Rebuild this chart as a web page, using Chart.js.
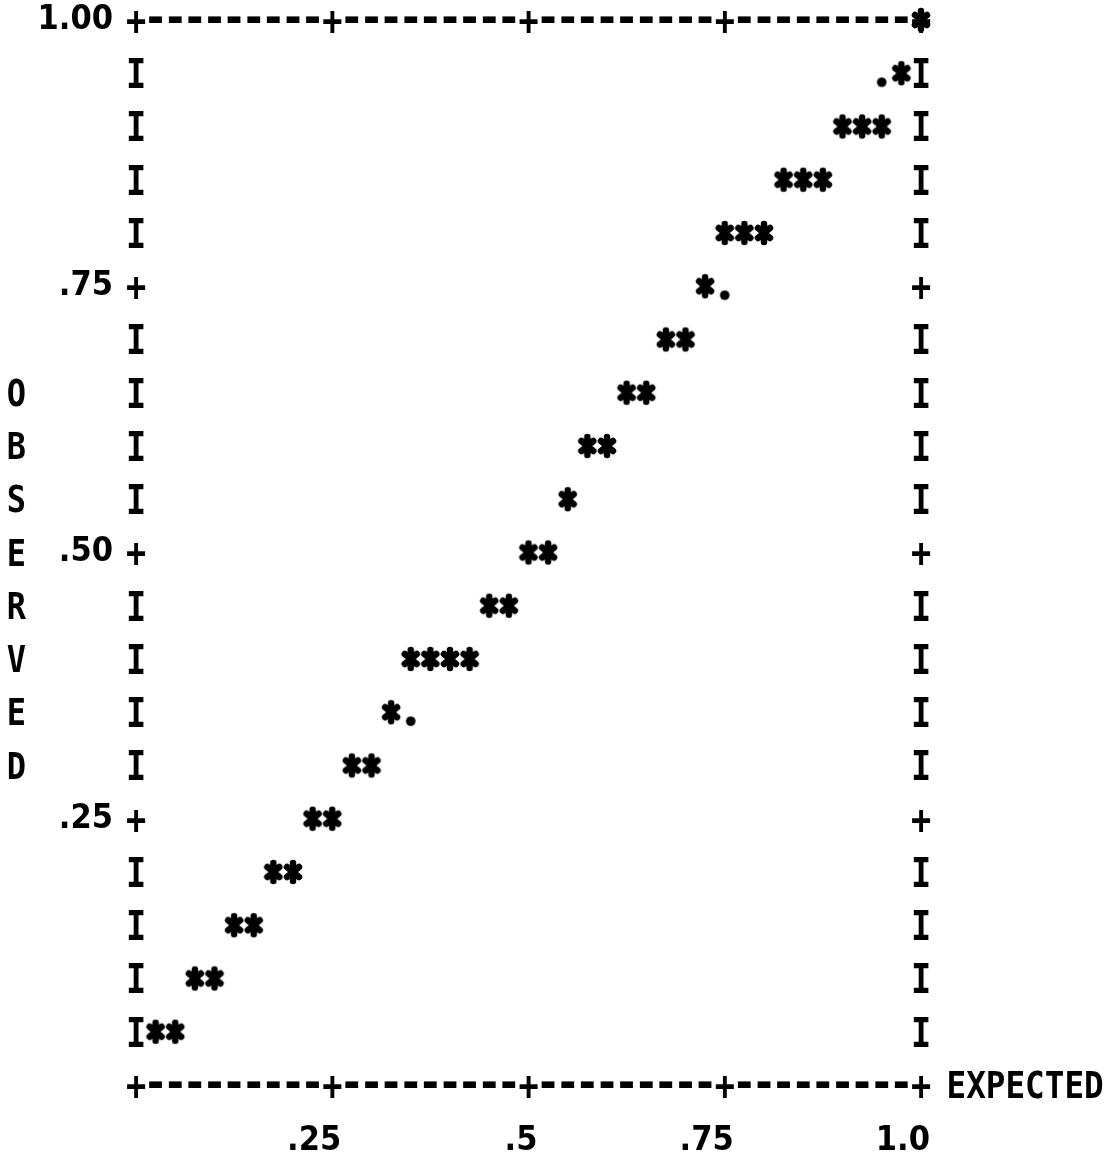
<!DOCTYPE html>
<html>
<head>
<meta charset="utf-8">
<script src="https://cdn.jsdelivr.net/npm/chart.js@4.4.1/dist/chart.umd.min.js"></script>
<style>
  html, body { margin: 0; padding: 0; background: #fff; }
  #wrap { width: 1113px; height: 1163px; }
</style>
</head>
<body>
<div id="wrap"><canvas id="c" width="1113" height="1163"></canvas></div>
<script>
// ---- data ----
const expectedStar = [0.025, 0.05, 0.075, 0.10, 0.125, 0.15, 0.175, 0.20, 0.225, 0.25,
  0.275, 0.30, 0.325, 0.35, 0.375, 0.40, 0.425, 0.45, 0.475, 0.50, 0.525, 0.55,
  0.575, 0.60, 0.625, 0.65, 0.675, 0.70, 0.725, 0.75, 0.775, 0.80, 0.825, 0.85, 0.875,
  0.90, 0.925, 0.95, 0.975, 1.0];
const observedStar = [0.05, 0.05, 0.10, 0.10, 0.15, 0.15, 0.20, 0.20, 0.25, 0.25,
  0.30, 0.30, 0.35, 0.40, 0.40, 0.40, 0.40, 0.45, 0.45, 0.50, 0.50, 0.55,
  0.60, 0.60, 0.65, 0.65, 0.70, 0.70, 0.75, 0.80, 0.80, 0.80, 0.85, 0.85, 0.85,
  0.90, 0.90, 0.90, 0.95, 1.0];
const expectedDot = [0.35, 0.75, 0.95];
const observedDot = [0.35, 0.75, 0.95];

const xTickValues = [0.25, 0.5, 0.75, 1.0];
const xTickLabels = ['.25', '.5', '.75', '1.0'];
const yTickValues = [0.25, 0.5, 0.75, 1.0];
const yTickLabels = ['.25', '.50', '.75', '1.00'];
const xTitle = 'EXPECTED';
const yTitle = 'OBSERVED';

// ---- styling helpers ----
const FONT = '"DejaVu Sans Mono", "Liberation Mono", monospace';
const TICK_FONT = '"DejaVu Sans Condensed", "DejaVu Sans Mono", monospace';
const FS = 32;
const COLS = 40, ROWS = 20;

function starGlyph() {
  const cv = document.createElement('canvas');
  cv.width = 26; cv.height = 30;
  const g = cv.getContext('2d');
  g.strokeStyle = '#000'; g.lineWidth = 6.5; g.lineCap = 'round';
  g.beginPath();
  g.moveTo(13, 6); g.lineTo(13, 24);
  g.moveTo(7, 10); g.lineTo(19, 20);
  g.moveTo(7, 20); g.lineTo(19, 10);
  g.stroke();
  return cv;
}
function dotGlyph() {
  const cv = document.createElement('canvas');
  cv.width = 20; cv.height = 40;
  const g = cv.getContext('2d');
  g.fillStyle = '#000';
  g.beginPath(); g.arc(10, 29, 4.8, 0, Math.PI * 2); g.fill();
  return cv;
}

// draw one printer character centred on (cx, cy), stretched
function printChar(ctx, ch, cx, cy, sx, sy, off) {
  ctx.save();
  ctx.translate(cx, cy);
  ctx.scale(sx, sy);
  ctx.fillText(ch, 0, off);
  ctx.restore();
}

const asciiFrame = {
  id: 'asciiFrame',
  beforeDatasetsDraw(chart) {
    const { ctx, scales: { x, y } } = chart;
    const px = c => x.getPixelForValue(c / COLS);
    const py = r => y.getPixelForValue(1 - r / ROWS);
    ctx.save();
    ctx.fillStyle = '#000';
    ctx.font = 'bold ' + FS + 'px ' + FONT;
    ctx.textAlign = 'center';
    ctx.textBaseline = 'alphabetic';
    const offC = 0.36 * FS, offDash = 0.28 * FS;
    for (let c = 0; c <= COLS; c++) {
      const plus = c % 10 === 0;
      for (const r of [0, ROWS]) {
        if (plus) printChar(ctx, '+', px(c), py(r), 1.05, 1.3, offC);
        else printChar(ctx, '-', px(c), py(r), 1.3, 1.45, offDash);
      }
    }
    for (let r = 1; r < ROWS; r++) {
      const ch = r % 5 === 0 ? '+' : 'I';
      printChar(ctx, ch, px(0), py(r), 1.05, 1.3, offC);
      printChar(ctx, ch, px(COLS), py(r), 1.05, 1.3, offC);
    }
    // vertical axis title, one letter per printed line
    for (let i = 0; i < yTitle.length; i++) {
      printChar(ctx, yTitle[i], px(-6.1), py(7 + i), 1, 1.15, offC);
    }
    // horizontal axis title after bottom-right corner
    ctx.textAlign = 'left';
    printChar(ctx, xTitle, px(41.3), py(ROWS), 1.02, 1.15, offC);
    ctx.restore();
  }
};

const tickFont = { family: TICK_FONT, size: 34, weight: 'bold' };

new Chart(document.getElementById('c'), {
  type: 'scatter',
  data: {
    datasets: [
      {
        label: 'observed',
        data: expectedStar.map((v, i) => ({ x: v, y: observedStar[i] })),
        pointStyle: starGlyph(),
        pointRadius: 10,
        clip: false
      },
      {
        label: 'reference',
        data: expectedDot.map((v, i) => ({ x: v, y: observedDot[i] })),
        pointStyle: dotGlyph(),
        pointRadius: 10,
        clip: false
      }
    ]
  },
  plugins: [asciiFrame],
  options: {
    responsive: false,
    devicePixelRatio: 1,
    animation: false,
    layout: { padding: { left: 0, right: 192, top: 20, bottom: 0 } },
    plugins: { legend: { display: false }, tooltip: { enabled: false } },
    scales: {
      x: {
        type: 'linear', min: 0, max: 1,
        grid: { display: false, drawTicks: false },
        border: { display: false },
        afterBuildTicks: s => { s.ticks = xTickValues.map(v => ({ value: v })); },
        afterFit: s => { s.height = 78; s.paddingLeft = 0; s.paddingRight = 0; },
        ticks: {
          autoSkip: false, maxRotation: 0, color: '#000', font: tickFont,
          padding: 36, align: 'end', labelOffset: 9,
          callback: v => { const i = xTickValues.indexOf(v); return i >= 0 ? xTickLabels[i] : ''; }
        }
      },
      y: {
        type: 'linear', min: 0, max: 1,
        grid: { display: false, drawTicks: false },
        border: { display: false },
        afterBuildTicks: s => { s.ticks = yTickValues.map(v => ({ value: v })); },
        afterFit: s => { s.width = 136; s.paddingTop = 0; s.paddingBottom = 0; },
        ticks: {
          autoSkip: false, color: '#000', font: tickFont, padding: 23,
          callback: v => { const i = yTickValues.indexOf(v); return i >= 0 ? yTickLabels[i] : ''; }
        }
      }
    }
  }
});
</script>
</body>
</html>
